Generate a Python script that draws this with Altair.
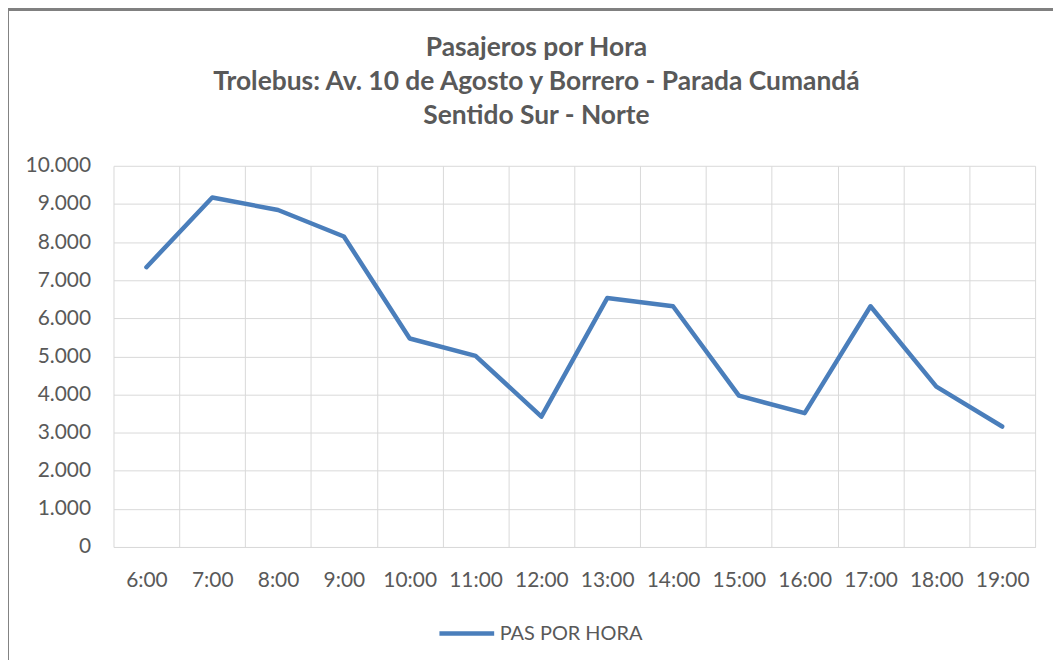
import altair as alt
import pandas as pd

hours = ["6:00", "7:00", "8:00", "9:00", "10:00", "11:00", "12:00",
         "13:00", "14:00", "15:00", "16:00", "17:00", "18:00", "19:00"]
pas_por_hora = [7340, 9170, 8840, 8145, 5470, 5015, 3420,
                6530, 6315, 3970, 3510, 6315, 4205, 3160]
series_name = "PAS POR HORA"
y_ticks = [0, 1000, 2000, 3000, 4000, 5000, 6000, 7000, 8000, 9000, 10000]
title_lines = ["Pasajeros por Hora",
               "Trolebus: Av. 10 de Agosto y Borrero - Parada Cumandá",
               "Sentido Sur - Norte"]

df = pd.DataFrame({"hora": hours, "pas": pas_por_hora, "serie": series_name})

FONT = "Lato"
GRAY = "#595959"
GRID = "#d9d9d9"
BLUE = "#4A7EBB"

x_enc = alt.X(
    "hora:N", sort=hours, bandPosition=0.5,
    scale=alt.Scale(type="band", paddingInner=0, paddingOuter=0),
    axis=alt.Axis(title=None, labelAngle=0, ticks=False, tickBand="extent",
                  grid=True, gridColor=GRID, gridWidth=1,
                  domain=True, domainColor=GRID, domainWidth=1,
                  labelFont=FONT, labelFontSize=21, labelColor=GRAY,
                  labelPadding=23),
)
y_enc = alt.Y(
    "pas:Q", scale=alt.Scale(domain=[0, 10000], nice=False),
    axis=alt.Axis(title=None, values=y_ticks, ticks=False, domain=False,
                  grid=True, gridColor=GRID, gridWidth=1,
                  labelFont=FONT, labelFontSize=21, labelColor=GRAY,
                  labelPadding=23,
                  labelExpr="replace(format(datum.value, ','), /,/g, '.')"),
)

line = alt.Chart(df).mark_line(strokeWidth=4.5, strokeCap="round", strokeJoin="round").encode(
    x=x_enc,
    y=y_enc,
    color=alt.Color("serie:N", scale=alt.Scale(range=[BLUE]),
                    legend=alt.Legend(title=None, orient="none", legendX=325, legendY=440,
                                      symbolType="stroke", symbolSize=3025,
                                      symbolStrokeWidth=4.5, labelOffset=3,
                                      labelFont=FONT, labelFontSize=20, labelColor=GRAY)),
)

border_top = alt.Chart(df).mark_rule(color="#808080", strokeWidth=2.5).encode(
    x=alt.value(-108), x2=alt.value(960), y=alt.value(-157))
border_left = alt.Chart(df).mark_rule(color="#808080", strokeWidth=2.5).encode(
    x=alt.value(-107), y=alt.value(-157), y2=alt.value(520))

chart = alt.layer(border_top, border_left, line).properties(
    width=926, height=383,
    title=alt.TitleParams(text=title_lines, font=FONT, fontSize=26.5, fontWeight="bold",
                          color=GRAY, lineHeight=34, anchor="middle", frame="group",
                          dx=-38, dy=155.5, offset=34),
    autosize=alt.AutoSizeParams(type="none"),
    padding={"left": 106, "top": 157, "right": 18, "bottom": 112},
).configure_view(stroke=None)

chart.save("out.html", embed_options={"renderer": "svg", "actions": False})
